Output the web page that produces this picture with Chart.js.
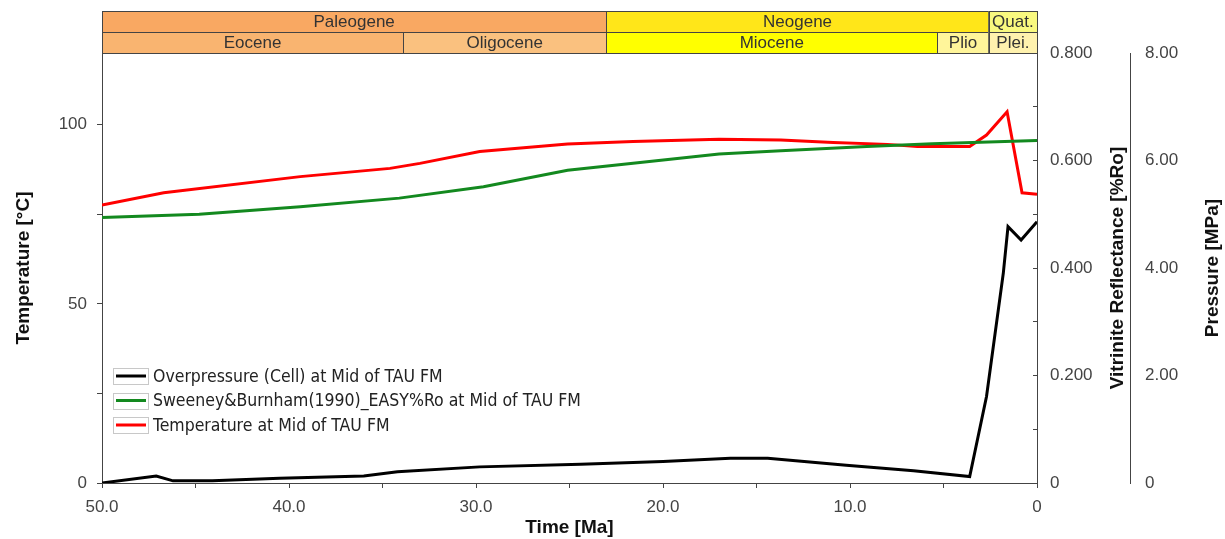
<!DOCTYPE html>
<html lang="en">
<head>
<meta charset="UTF-8" />
<title>TAU FM - Temperature, Ro, Overpressure</title>
<style>
  html, body { margin: 0; padding: 0; background: #fff; }
  #wrap { width: 1225px; height: 539px; }
</style>
</head>
<body>
<div id="wrap"><canvas id="chart" width="1225" height="539"></canvas></div>
<script src="https://cdn.jsdelivr.net/npm/chart.js"></script>
<script>
// --- data (time in Ma) ---
const pressAges = [50, 47.1, 46.2, 44.1, 40.5, 36.0, 34.2, 29.8, 24.4, 20.0, 16.4, 14.4, 10.2, 6.6, 3.6, 2.7, 1.8, 1.55, 0.85, 0];
const pressValues = [0, 0.13, 0.04, 0.04, 0.09, 0.13, 0.21, 0.30, 0.35, 0.40, 0.46, 0.46, 0.33, 0.23, 0.12, 1.61, 3.91, 4.77, 4.52, 4.86];

const roAges = [50, 44.8, 39.4, 34.1, 29.6, 25.1, 21.6, 17.0, 13.7, 9.1, 5.6, 0];
const roValues = [0.494, 0.500, 0.514, 0.530, 0.551, 0.582, 0.595, 0.612, 0.618, 0.626, 0.631, 0.637];

const tempAges = [50, 46.7, 39.4, 34.6, 33.0, 29.8, 25.1, 21.6, 17.0, 13.7, 10.9, 8.0, 6.4, 3.6, 2.7, 1.6, 0.8, 0];
const tempValues = [77.6, 81.0, 85.5, 87.8, 89.2, 92.5, 94.6, 95.3, 95.9, 95.7, 95.0, 94.5, 93.9, 93.9, 97.1, 103.6, 81.0, 80.6];

const seriesLabels = [
  "Overpressure (Cell) at Mid of TAU FM",
  "Sweeney&Burnham(1990)_EASY%Ro at Mid of TAU FM",
  "Temperature at Mid of TAU FM"
];
const seriesColors = ["#000000", "#13891f", "#ff0000"];

// tick values
const timeTicks = [50, 45, 40, 35, 30, 25, 20, 15, 10, 5, 0];
const tempTicks = [0, 25, 50, 75, 100];
const roTicks = [0, 0.1, 0.2, 0.3, 0.4, 0.5, 0.6, 0.7, 0.8];
const pressTicks = [0, 2, 4, 6, 8];

// geologic time scale
const periodNames = ["Paleogene", "Neogene", "Quat."];
const periodStart = [66.0, 23.03, 2.58];
const periodEnd = [23.03, 2.58, 0];
const periodColors = ["#f9a862", "#ffe619", "#f9f97f"];

const epochNames = ["Eocene", "Oligocene", "Miocene", "Plio", "Plei."];
const epochStart = [56.0, 33.9, 23.03, 5.333, 2.58];
const epochEnd = [33.9, 23.03, 5.333, 2.58, 0];
const epochColors = ["#f9b470", "#fac17f", "#ffff00", "#fff59a", "#fff2ae"];

const toXY = (xs, ys) => xs.map((x, i) => ({ x: x, y: ys[i] }));

Chart.defaults.font.family = "'Liberation Sans', Arial, sans-serif";
Chart.defaults.font.size = 17;
Chart.defaults.color = "#444";

const timeBands = {
  id: "timeBands",
  afterDraw(chart) {
    const ctx = chart.ctx;
    const xs = chart.scales.x;
    const top = chart.chartArea.top;
    const rowH = 21;
    function row(names, starts, ends, colors, y) {
      names.forEach((name, i) => {
        const a = xs.getPixelForValue(Math.min(starts[i], xs.max));
        const b = xs.getPixelForValue(Math.max(ends[i], xs.min));
        ctx.fillStyle = colors[i];
        ctx.fillRect(a, y, b - a, rowH);
        ctx.strokeStyle = "#444";
        ctx.lineWidth = 1;
        ctx.strokeRect(Math.round(a) + 0.5, y + 0.5, Math.round(b - a), rowH);
        ctx.fillStyle = "#333";
        ctx.font = "17px 'Liberation Sans', Arial, sans-serif";
        ctx.textAlign = "center";
        ctx.textBaseline = "middle";
        ctx.fillText(name, (a + b) / 2, y + rowH / 2 + 1);
      });
    }
    ctx.save();
    row(periodNames, periodStart, periodEnd, periodColors, top - 2 * rowH);
    row(epochNames, epochStart, epochEnd, epochColors, top - rowH);
    ctx.restore();
  }
};

const innerLegend = {
  id: "innerLegend",
  afterDatasetsDraw(chart) {
    const ctx = chart.ctx;
    const ca = chart.chartArea;
    const x0 = ca.left + 11;
    ctx.save();
    chart.data.datasets.forEach((ds, i) => {
      const y = ca.top + 323 + i * 24.5;
      ctx.strokeStyle = "#c8c8c8";
      ctx.lineWidth = 1;
      ctx.strokeRect(x0 + 0.5, Math.round(y - 8) + 0.5, 35, 16);
      ctx.strokeStyle = ds.borderColor;
      ctx.lineWidth = 3;
      ctx.beginPath();
      ctx.moveTo(x0 + 3, y);
      ctx.lineTo(x0 + 33, y);
      ctx.stroke();
      ctx.fillStyle = "#222";
      ctx.font = "17.5px 'DejaVu Sans Condensed', 'DejaVu Sans', sans-serif";
      ctx.textAlign = "left";
      ctx.textBaseline = "middle";
      ctx.fillText(ds.label, x0 + 40, y + 1);
    });
    ctx.restore();
  }
};

const rightTitles = {
  id: "rightTitles",
  afterDraw(chart) {
    const ctx = chart.ctx;
    const ca = chart.chartArea;
    const yMid = (ca.top + ca.bottom) / 2;
    ctx.save();
    ctx.fillStyle = "#111";
    ctx.font = "bold 19px 'Liberation Sans', Arial, sans-serif";
    ctx.textAlign = "center";
    ctx.textBaseline = "middle";
    [["y1", "Vitrinite Reflectance [%Ro]", 81], ["y2", "Pressure [MPa]", 83]].forEach(([id, text, dx]) => {
      const s = chart.scales[id];
      ctx.save();
      ctx.translate(s.left + dx, yMid);
      ctx.rotate(-Math.PI / 2);
      ctx.fillText(text, 0, 0);
      ctx.restore();
    });
    ctx.restore();
  }
};

const setTicks = list => scale => { scale.ticks = list.map(v => ({ value: v })); };

new Chart(document.getElementById("chart"), {
  type: "line",
  data: {
    datasets: [
      { label: seriesLabels[0], data: toXY(pressAges, pressValues), yAxisID: "y2" },
      { label: seriesLabels[1], data: toXY(roAges, roValues), yAxisID: "y1" },
      { label: seriesLabels[2], data: toXY(tempAges, tempValues), yAxisID: "y" }
    ].map((d, i) => Object.assign(d, {
      borderColor: seriesColors[i],
      backgroundColor: seriesColors[i],
      borderWidth: 3,
      pointRadius: 0,
      tension: 0,
      fill: false
    }))
  },
  options: {
    responsive: false,
    animation: false,
    layout: { padding: { top: 53, left: 0, right: 0, bottom: 0 } },
    plugins: { legend: { display: false }, tooltip: { enabled: false } },
    scales: {
      x: {
        type: "linear",
        reverse: true,
        min: 0,
        max: 50,
        afterBuildTicks: setTicks(timeTicks),
        afterFit: s => { s.height = 56; },
        grid: { drawOnChartArea: false, tickLength: 5, color: "#444" },
        border: { color: "#444" },
        ticks: {
          autoSkip: false,
          maxRotation: 0,
          padding: 9,
          callback: v => (v % 10 !== 0 ? "" : (v === 0 ? "0" : v.toFixed(1)))
        },
        title: {
          display: true,
          text: "Time [Ma]",
          color: "#111",
          font: { size: 19, weight: "bold" },
          padding: { top: 0, bottom: 0 }
        }
      },
      y: {
        position: "left",
        min: 0,
        max: 120,
        afterBuildTicks: setTicks(tempTicks),
        afterFit: s => { s.width = 102; },
        grid: { drawOnChartArea: false, tickLength: 5, color: "#444" },
        border: { color: "#444" },
        ticks: {
          padding: 10,
          callback: (v, i) => (i % 2 ? "" : String(v))
        },
        title: {
          display: true,
          text: "Temperature [°C]",
          color: "#111",
          font: { size: 19, weight: "bold" },
          padding: { top: 12, bottom: 0 }
        }
      },
      y1: {
        position: "right",
        weight: 0,
        min: 0,
        max: 0.8,
        afterBuildTicks: setTicks(roTicks),
        afterFit: s => { s.width = 93; },
        grid: { drawOnChartArea: false, tickLength: -4, color: "#444" },
        border: { color: "#444" },
        ticks: {
          padding: 17,
          callback: (v, i) => (i % 2 ? "" : (v === 0 ? "0" : v.toFixed(3)))
        }
      },
      y2: {
        position: "right",
        weight: 1,
        min: 0,
        max: 8,
        afterBuildTicks: setTicks(pressTicks),
        afterFit: s => { s.width = 95; },
        grid: { drawOnChartArea: false, drawTicks: false },
        border: { color: "#444" },
        ticks: {
          padding: 15,
          callback: v => (v === 0 ? "0" : v.toFixed(2))
        }
      }
    }
  },
  plugins: [timeBands, innerLegend, rightTitles]
});
</script>
</body>
</html>
